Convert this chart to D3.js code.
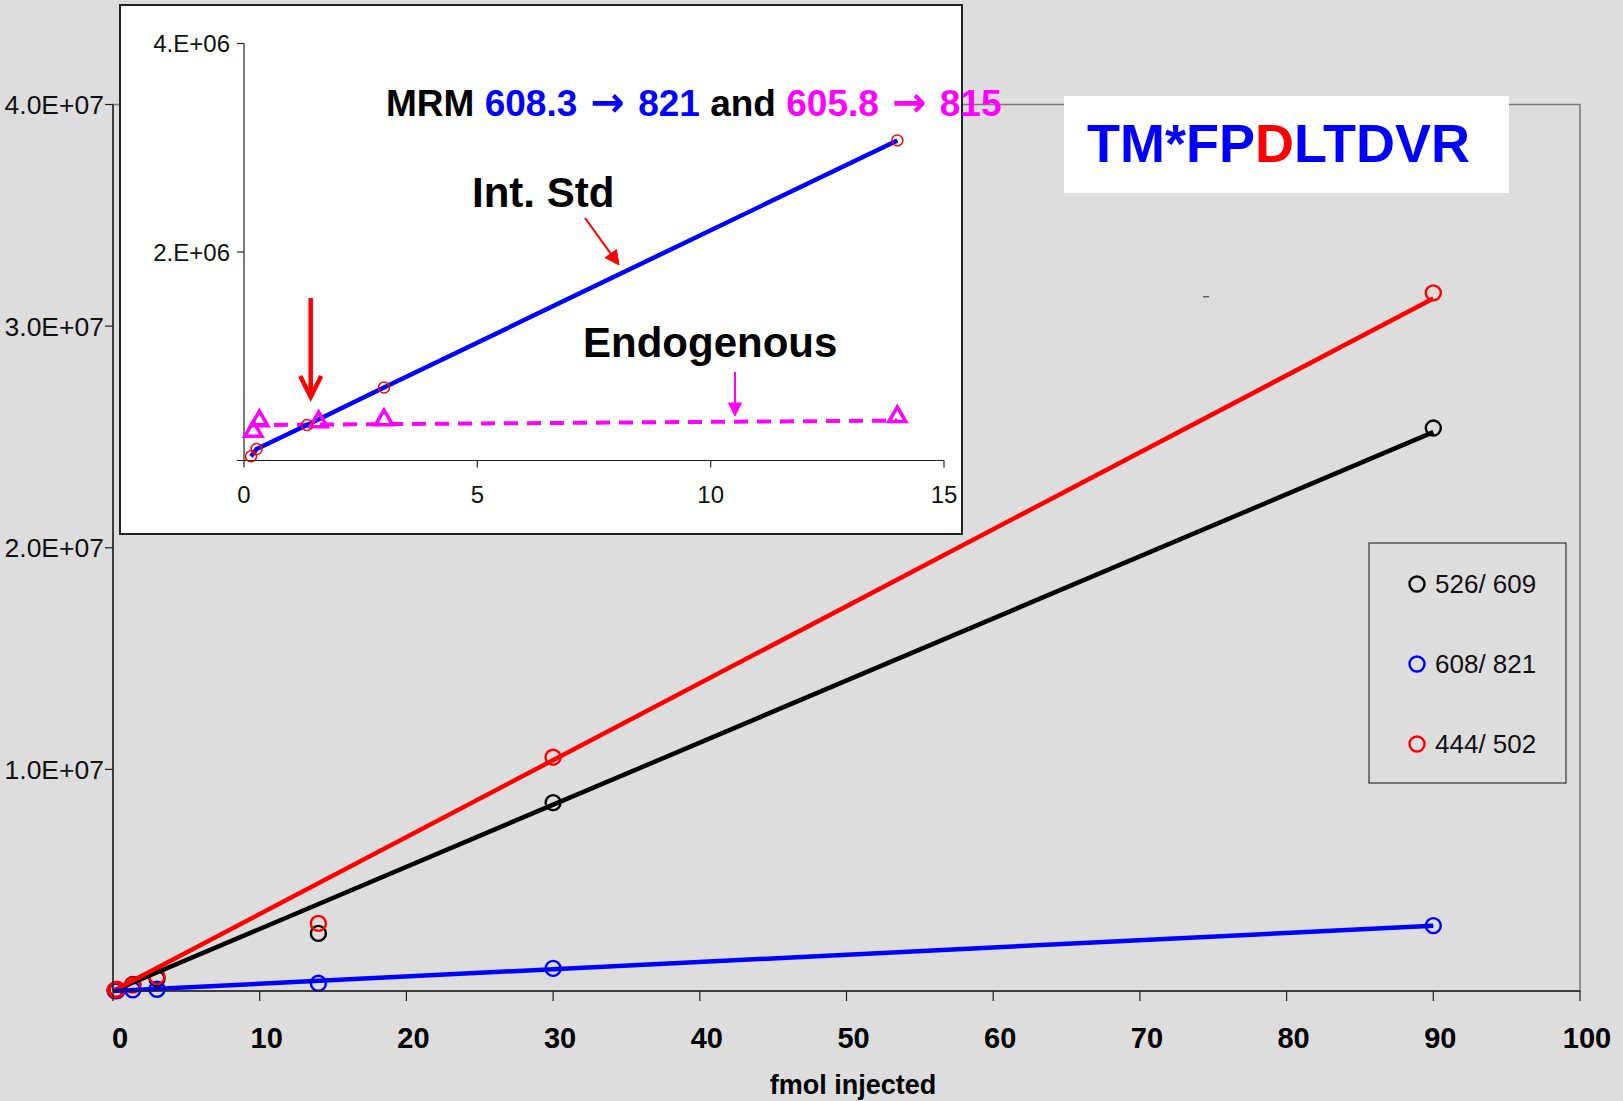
<!DOCTYPE html>
<html>
<head>
<meta charset="utf-8">
<script src="https://cdn.jsdelivr.net/npm/d3@7"></script>
<style>
    body { margin: 0; background: #dddddd; }
    text { font-family: "Liberation Sans", Arial, sans-serif; white-space: pre; }
</style>
</head>
<body>
<svg id="chart" width="1623" height="1101"></svg>
<script>
(function () {

    /* data */
    var fmol = [0.15, 0.27, 1.35, 3, 14, 30, 90];
    var seriesNames = ["526/ 609", "608/ 821", "444/ 502"];
    var s526 = [0.03e6, 0.06e6, 0.30e6, 0.55e6, 2.6e6, 8.5e6, 25.4e6];
    var s608 = [0.01e6, 0.02e6, 0.05e6, 0.08e6, 0.35e6, 1.02e6, 2.95e6];
    var s444 = [0.04e6, 0.08e6, 0.27e6, 0.65e6, 3.05e6, 10.55e6, 31.5e6];
    var xTicks = [0, 10, 20, 30, 40, 50, 60, 70, 80, 90, 100];
    var yTicks = [1e7, 2e7, 3e7, 4e7];

    // inset
    var insetX = [0.15, 0.27, 1.35, 3, 14];
    var intStd = [0.04e6, 0.11e6, 0.34e6, 0.70e6, 3.07e6];
    var endoX = [0.2, 0.33, 1.6, 3, 14];
    var endo = [0.28e6, 0.38e6, 0.37e6, 0.39e6, 0.42e6];
    var endoTrendX = [0.15, 14];
    var endoTrend = [0.34e6, 0.383e6];
    var insetXTicks = [0, 5, 10, 15];
    var insetYTicks = [2e6, 4e6];

    var seriesColor = d3.scaleOrdinal()
        .domain(seriesNames)
        .range(["#000000", "#0000ff", "#ff0000"]);

    // Excel style "4.0E+07" / "4.E+06"
    function sci(v, digits) {
        var e = Math.floor(Math.log10(v));
        var m = v / Math.pow(10, e);
        var s = digits > 0 ? m.toFixed(digits) : m.toFixed(0) + ".";
        return s + "E+" + (e < 10 ? "0" + e : e);
    }

    var svg = d3.select("#chart");

    /* main chart */
    var x = d3.scaleLinear().domain([0, 100]).range([113, 1580]);
    var y = d3.scaleLinear().domain([0, 4e7]).range([991, 104.5]);

    svg.append("rect")
        .attr("x", x(0)).attr("y", y(4e7))
        .attr("width", x(100) - x(0)).attr("height", y(0) - y(4e7))
        .attr("fill", "#dddddd")
        .attr("stroke", "#7a7a7a")
        .attr("stroke-width", 1.5);

    var data = seriesNames.map(function (name, i) {
        var vals = [s526, s608, s444][i];
        return {
            name: name,
            points: fmol.map(function (f, j) { return { x: f, y: vals[j] }; })
        };
    });

    // linear trendline through the origin
    data.forEach(function (d) {
        var sxy = d3.sum(d.points, function (p) { return p.x * p.y; });
        var sxx = d3.sum(d.points, function (p) { return p.x * p.x; });
        d.slope = sxy / sxx;
    });

    var marks = svg.append("g");
    [0, 1, 2].forEach(function (i) {
        var d = data[i];
        marks.selectAll(null)
            .data(d.points)
            .enter().append("circle")
            .attr("cx", function (p) { return x(p.x); })
            .attr("cy", function (p) { return y(p.y); })
            .attr("r", 7.5)
            .attr("fill", "none")
            .attr("stroke", seriesColor(d.name))
            .attr("stroke-width", 2.4);
    });

    [0, 2, 1].forEach(function (i) {
        var d = data[i];
        var xmax = d3.max(d.points, function (p) { return p.x; });
        marks.append("line")
            .attr("x1", x(0)).attr("y1", y(0))
            .attr("x2", x(xmax)).attr("y2", y(d.slope * xmax))
            .attr("stroke", seriesColor(d.name))
            .attr("stroke-width", 4.5);
    });

    // axes
    svg.append("line")
        .attr("x1", x(0)).attr("x2", x(0)).attr("y1", y(4e7)).attr("y2", y(0))
        .attr("stroke", "#222").attr("stroke-width", 1.5);
    svg.append("line")
        .attr("x1", x(0)).attr("x2", x(100)).attr("y1", y(0)).attr("y2", y(0))
        .attr("stroke", "#222").attr("stroke-width", 1.5);

    var yt = svg.append("g").selectAll("g").data(yTicks).enter().append("g")
        .attr("transform", function (d) { return "translate(0," + y(d) + ")"; });
    yt.append("line").attr("x1", x(0) - 8).attr("x2", x(0)).attr("stroke", "#222").attr("stroke-width", 1.2);
    yt.append("text")
        .attr("x", x(0) - 9).attr("dy", "0.36em")
        .attr("text-anchor", "end")
        .style("font-size", "26.5px")
        .attr("fill", "#111")
        .text(function (d) { return sci(d, 1); });

    var xt = svg.append("g").selectAll("g").data(xTicks).enter().append("g")
        .attr("transform", function (d) { return "translate(" + x(d) + ",0)"; });
    xt.append("line").attr("y1", y(0)).attr("y2", y(0) + 10).attr("stroke", "#222").attr("stroke-width", 1.2);
    xt.append("text")
        .attr("x", 7).attr("y", 1048)
        .attr("text-anchor", "middle")
        .style("font-size", "29px").style("font-weight", "bold")
        .text(function (d) { return d; });

    svg.append("text")
        .attr("x", 853).attr("y", 1094)
        .attr("text-anchor", "middle")
        .style("font-size", "27px").style("font-weight", "bold")
        .text("fmol injected");

    // stray dash
    svg.append("line")
        .attr("x1", 1203).attr("x2", 1209).attr("y1", 296.7).attr("y2", 296.7)
        .attr("stroke", "#555").attr("stroke-width", 1.3);

    /* legend */
    svg.append("rect")
        .attr("x", 1369).attr("y", 543).attr("width", 197).attr("height", 240)
        .attr("fill", "none").attr("stroke", "#333").attr("stroke-width", 1.2);
    var lg = svg.append("g").selectAll("g").data(seriesNames).enter().append("g")
        .attr("transform", function (d, i) { return "translate(1417," + (584 + i * 80) + ")"; });
    lg.append("circle").attr("r", 7.5).attr("fill", "none")
        .attr("stroke", function (d) { return seriesColor(d); }).attr("stroke-width", 2.4);
    lg.append("text").attr("x", 18).attr("dy", "0.36em")
        .style("font-size", "26px").attr("fill", "#111")
        .text(function (d) { return d; });

    /* title box */
    svg.append("rect")
        .attr("x", 1064).attr("y", 96).attr("width", 445).attr("height", 97)
        .attr("fill", "#ffffff");
    var title = svg.append("text")
        .attr("x", 1087).attr("y", 162)
        .style("font-size", "54px").style("font-weight", "bold");
    title.append("tspan").attr("fill", "#0000ff").text("TM*FP");
    title.append("tspan").attr("fill", "#ff0000").text("D");
    title.append("tspan").attr("fill", "#0000ff").text("LTDVR");

    /* inset */
    var inset = svg.append("g");
    inset.append("rect")
        .attr("x", 120).attr("y", 5).attr("width", 842).attr("height", 529)
        .attr("fill", "#ffffff").attr("stroke", "#222").attr("stroke-width", 2);

    var xi = d3.scaleLinear().domain([0, 15]).range([244, 944]);
    var yi = d3.scaleLinear().domain([0, 4e6]).range([460.5, 43.5]);

    inset.append("line")
        .attr("x1", xi(0)).attr("x2", xi(0)).attr("y1", yi(4e6)).attr("y2", yi(0))
        .attr("stroke", "#222").attr("stroke-width", 1.2);
    inset.append("line")
        .attr("x1", xi(0) - 7).attr("x2", xi(15)).attr("y1", yi(0)).attr("y2", yi(0))
        .attr("stroke", "#222").attr("stroke-width", 1.2);

    var iyt = inset.append("g").selectAll("g").data(insetYTicks).enter().append("g")
        .attr("transform", function (d) { return "translate(0," + yi(d) + ")"; });
    iyt.append("line").attr("x1", xi(0) - 7).attr("x2", xi(0)).attr("stroke", "#222").attr("stroke-width", 1.2);
    iyt.append("text")
        .attr("x", xi(0) - 14).attr("dy", "0.36em")
        .attr("text-anchor", "end")
        .style("font-size", "24px").attr("fill", "#111")
        .text(function (d) { return sci(d, 0); });

    var ixt = inset.append("g").selectAll("g").data(insetXTicks).enter().append("g")
        .attr("transform", function (d) { return "translate(" + xi(d) + ",0)"; });
    ixt.append("line").attr("y1", yi(0)).attr("y2", yi(0) + 7).attr("stroke", "#222").attr("stroke-width", 1.2);
    ixt.append("text")
        .attr("y", 503).attr("text-anchor", "middle")
        .style("font-size", "24px").attr("fill", "#111")
        .text(function (d) { return d; });

    // endogenous trend (dashed)
    inset.append("path")
        .attr("d", d3.line()
            .x(function (v) { return xi(v); })
            .y(function (v, i) { return yi(endoTrend[i]); })(endoTrendX))
        .attr("fill", "none")
        .attr("stroke", "#ff00ff").attr("stroke-width", 4)
        .attr("stroke-dasharray", "14,9");

    var std = insetX.map(function (v, i) { return [v, intStd[i]]; });
    inset.append("path")
        .attr("d", d3.line()
            .x(function (p) { return xi(p[0]); })
            .y(function (p) { return yi(p[1]); })(std))
        .attr("fill", "none").attr("stroke", "#0000ff").attr("stroke-width", 4.5);

    inset.selectAll(".tri")
        .data(endoX.map(function (v, i) { return [v, endo[i]]; }))
        .enter().append("path")
        .attr("class", "tri")
        .attr("transform", function (p) { return "translate(" + xi(p[0]) + "," + yi(p[1]) + ")"; })
        .attr("d", d3.symbol(d3.symbolTriangle, 125))
        .attr("fill", "none").attr("stroke", "#ff00ff").attr("stroke-width", 3.5);

    inset.selectAll(".std")
        .data(std)
        .enter().append("circle")
        .attr("class", "std")
        .attr("cx", function (p) { return xi(p[0]); })
        .attr("cy", function (p) { return yi(p[1]); })
        .attr("r", 5.5)
        .attr("fill", "none").attr("stroke", "#ff0000").attr("stroke-width", 1.5);

    // annotations
    var mrm = inset.append("text")
        .attr("x", 386).attr("y", 116)
        .style("font-size", "37px").style("font-weight", "bold");
    function arrowSpan(t, color) {
        t.append("tspan").attr("fill", color)
            .attr("dx", 3)
            .style("font-family", "'DejaVu Sans', sans-serif")
            .style("font-size", "41px")
            .text("\u2192");
    }
    mrm.append("tspan").attr("fill", "#000").text("MRM ");
    mrm.append("tspan").attr("fill", "#0000ff").text("608.3 ");
    arrowSpan(mrm, "#0000ff");
    mrm.append("tspan").attr("fill", "#0000ff").attr("dx", 3).text(" 821");
    mrm.append("tspan").attr("fill", "#000").text(" and ");
    mrm.append("tspan").attr("fill", "#ff00ff").text("605.8 ");
    arrowSpan(mrm, "#ff00ff");
    mrm.append("tspan").attr("fill", "#ff00ff").attr("dx", 3).text(" 815");

    inset.append("text")
        .attr("x", 472).attr("y", 207)
        .style("font-size", "42px").style("font-weight", "bold")
        .text("Int. Std");
    inset.append("text")
        .attr("x", 583).attr("y", 357)
        .style("font-size", "42px").style("font-weight", "bold")
        .text("Endogenous");

    function arrow(g, xa, ya, xb, yb, color, width, head, open) {
        var a = Math.atan2(yb - ya, xb - xa);
        var hw = head * 0.5;
        var bx = xb - head * Math.cos(a), by = yb - head * Math.sin(a);
        var lx = bx + hw * Math.sin(a), ly = by - hw * Math.cos(a);
        var rx = bx - hw * Math.sin(a), ry = by + hw * Math.cos(a);
        g.append("line")
            .attr("x1", xa).attr("y1", ya)
            .attr("x2", open ? xb : bx).attr("y2", open ? yb : by)
            .attr("stroke", color).attr("stroke-width", width);
        g.append("path")
            .attr("d", "M" + lx + "," + ly + "L" + xb + "," + yb + "L" + rx + "," + ry + (open ? "" : "Z"))
            .attr("fill", open ? "none" : color)
            .attr("stroke", color)
            .attr("stroke-width", open ? width : 1);
    }

    arrow(inset, 585, 218, 619, 265, "#ff0000", 2, 14, false);
    arrow(inset, 310.7, 298, 310.7, 397, "#ff0000", 4.5, 21, true);
    arrow(inset, 735, 372, 735, 416, "#ff00ff", 2, 13, false);

})();
</script>
</body>
</html>
